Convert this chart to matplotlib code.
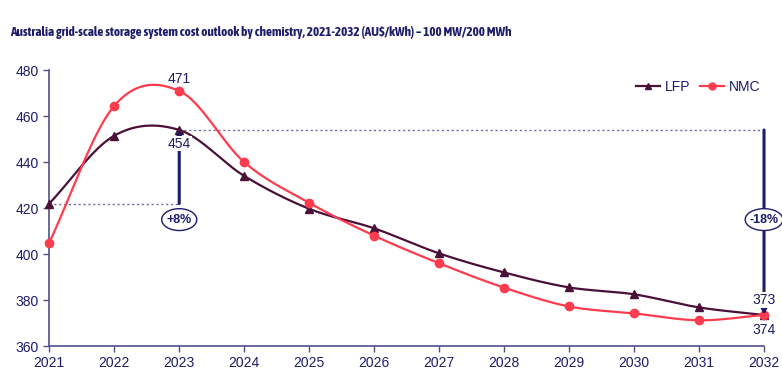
import numpy as np
import matplotlib
matplotlib.use("Agg")
import matplotlib.pyplot as plt
from matplotlib.patches import Ellipse
from matplotlib import font_manager

years = [2021, 2022, 2023, 2024, 2025, 2026, 2027, 2028, 2029, 2030, 2031, 2032]
lfp = [422, 451.5, 454, 434, 419.7, 411.2, 400.3, 392, 385.5, 382.5, 376.8, 373.5]
nmc = [405, 464.5, 471, 440, 422.3, 408, 396, 385.4, 377.2, 374.2, 371.2, 373.5]
title = "Australia grid-scale storage system cost outlook by chemistry, 2021-2032 (AU$/kWh) \u2013 100 MW/200 MWh"
change_labels = ["+8%", "-18%"]
end_labels = ["373", "374"]

names = {f.name for f in font_manager.fontManager.ttflist}
base = "Liberation Sans" if "Liberation Sans" in names else "DejaVu Sans"
plt.rcParams['font.family'] = [base, 'DejaVu Sans']

NAVY = "#1c1c6b"
SPINE = "#50508a"
LFP_C = "#4a1038"
NMC_C = "#ff3b4e"


def smooth(x, y, n=40):
    # Catmull-Rom style smoothing (as in spreadsheet "smoothed line")
    x = np.asarray(x, float); y = np.asarray(y, float)
    px = np.concatenate([[2 * x[0] - x[1]], x, [2 * x[-1] - x[-2]]])
    py = np.concatenate([[2 * y[0] - y[1]], y, [2 * y[-1] - y[-2]]])
    xs, ys = [], []
    for i in range(1, len(px) - 2):
        p0, p1, p2, p3 = [np.array([px[j], py[j]]) for j in (i - 1, i, i + 1, i + 2)]
        c1 = p1 + (p2 - p0) / 6
        c2 = p2 - (p3 - p1) / 6
        t = np.linspace(0, 1, n)[:, None]
        b = (1 - t) ** 3 * p1 + 3 * (1 - t) ** 2 * t * c1 + 3 * (1 - t) * t ** 2 * c2 + t ** 3 * p2
        xs.append(b[:, 0]); ys.append(b[:, 1])
    return np.concatenate(xs), np.concatenate(ys)


fig = plt.figure(figsize=(7.82, 3.89), dpi=100)
ax = fig.add_axes([0.063, 0.1105, 0.914, 0.709])

sx, sy = smooth(years, lfp)
ax.plot(sx, sy, color=LFP_C, lw=1.6, clip_on=False, zorder=3)
ax.plot(years, lfp, ls='none', marker='^', ms=6, color=LFP_C, clip_on=False, zorder=4)
sx, sy = smooth(years, nmc)
ax.plot(sx, sy, color=NMC_C, lw=1.6, clip_on=False, zorder=3)
ax.plot(years, nmc, ls='none', marker='o', ms=6, color=NMC_C, clip_on=False, zorder=4)

# legend proxies
ax.plot([], [], color=LFP_C, marker='^', ms=5, lw=1.6, label='LFP')
ax.plot([], [], color=NMC_C, marker='o', ms=5, lw=1.6, label='NMC')
h, l = ax.get_legend_handles_labels()
leg = ax.legend(h[-2:], l[-2:], loc='center right', bbox_to_anchor=(760 / 782, 1 - 87 / 389),
                bbox_transform=fig.transFigure, ncol=2, frameon=False, fontsize=10,
                handlelength=1.7, columnspacing=0.7, handletextpad=0.35,
                borderpad=0, borderaxespad=0)
for t in leg.get_texts():
    t.set_color(NAVY)

# dotted reference lines
ax.plot([years[0], years[2]], [lfp[0], lfp[0]], ls=(0, (1.5, 2)), color="#6a6aa8", lw=1.0, zorder=2)
ax.plot([years[2], years[-1]], [lfp[2], lfp[2]], ls=(0, (1.5, 2)), color="#6a6aa8", lw=1.0, zorder=2)

# +8% arrow
ax.annotate('', xy=(years[2], lfp[2]), xytext=(years[2], lfp[0]),
            arrowprops=dict(arrowstyle='-|>', color=NAVY, lw=2.2, mutation_scale=12,
                            shrinkA=0, shrinkB=0), zorder=5)
ax.text(years[2], 448, f"{lfp[2]:.0f}", ha='center', va='center', color=NAVY, fontsize=10,
        bbox=dict(fc='white', ec='none', pad=0.5), zorder=6)
ax.text(years[2], nmc[2] + 2.2, f"{nmc[2]:.0f}", ha='center', va='bottom', color=NAVY, fontsize=10, zorder=6)
ax.add_patch(Ellipse((years[2], 415), 0.54, 9.5, fc='white', ec=NAVY, lw=1.0, zorder=6))
ax.text(years[2], 415, change_labels[0], ha='center', va='center', color=NAVY, fontsize=9,
        fontweight='bold', zorder=7)

# -18% arrow
ax.annotate('', xy=(years[-1], lfp[-1]), xytext=(years[-1], lfp[2]),
            arrowprops=dict(arrowstyle='-|>', color=NAVY, lw=2.2, mutation_scale=12,
                            shrinkA=0, shrinkB=0), zorder=5, annotation_clip=False)
ax.add_patch(Ellipse((years[-1], 415), 0.58, 9.5, fc='white', ec=NAVY, lw=1.0, zorder=6, clip_on=False))
ax.text(years[-1], 415, change_labels[1], ha='center', va='center', color=NAVY, fontsize=9,
        fontweight='bold', zorder=7, clip_on=False)
ax.text(years[-1], 380, end_labels[0], ha='center', va='center', color=NAVY, fontsize=10, zorder=6,
        bbox=dict(fc='white', ec='none', pad=0.8), clip_on=False)
ax.text(years[-1], 367, end_labels[1], ha='center', va='center', color=NAVY, fontsize=10, zorder=6)

ax.set_xlim(2021, 2032)
ax.set_ylim(360, 480)
ax.set_xticks(years)
ax.set_yticks(np.arange(360, 481, 20))
for s in ['top', 'right']:
    ax.spines[s].set_visible(False)
for s in ['left', 'bottom']:
    ax.spines[s].set_color(SPINE)
    ax.spines[s].set_linewidth(1.2)
ax.tick_params(colors=SPINE, labelcolor=NAVY, labelsize=10, length=4, width=1.0, direction='out')

# title: condensed bold face, sized to roughly the reference width
candidates = ['Fira Sans Extra Condensed', 'Barlow Condensed', 'Roboto Condensed',
              'PT Sans Narrow', 'Archivo Narrow', 'Encode Sans Condensed',
              'IBM Plex Sans Condensed', 'Fira Sans Condensed', 'Asap Condensed']
candidates = [c for c in candidates if c in names] or [base]
r = fig.canvas.get_renderer()
best = None
for fam in candidates:
    t = fig.text(0, 0, title, fontsize=10, fontweight='bold', family=fam)
    w = t.get_window_extent(r).width
    t.remove()
    size = 10 * 500 / w
    score = abs(size - 10.6)
    if best is None or score < best[0]:
        best = (score, fam, size)
_, fam, size = best
fig.text(10 / 782, 1 - 35.7 / 389, title, fontsize=min(size, 11.5), fontweight='bold', color=NAVY,
         family=[fam, 'DejaVu Sans'], ha='left', va='baseline')

fig.savefig("out.png", dpi=100)
